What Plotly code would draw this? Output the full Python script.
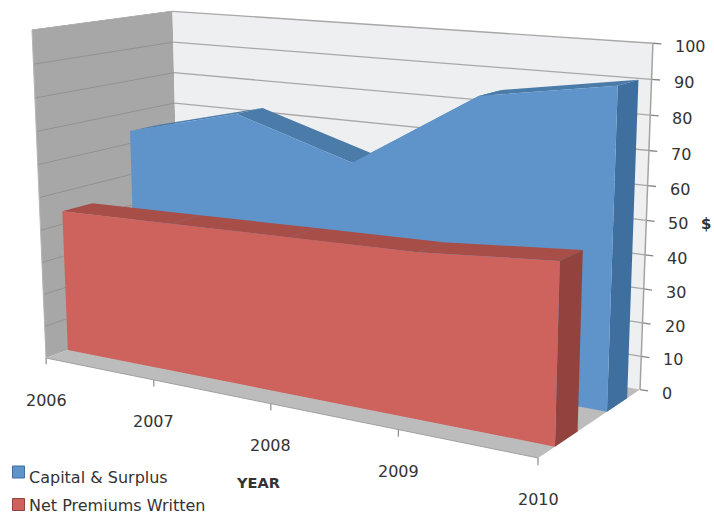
import numpy as np
import plotly.graph_objects as go

# Chart data
years = ["2006", "2007", "2008", "2009", "2010"]
capital_surplus = [64, 73, 62, 85, 91]
net_premiums = [44, 45, 46, 47, 50]
value_ticks = [0, 10, 20, 30, 40, 50, 60, 70, 80, 90, 100]
series_names = ["Capital & Surplus", "Net Premiums Written"]

# Perspective of the chart box: vanishing points of the year, depth and value
# directions, their homogeneous weights, and the near-left floor corner.
VANISH_X = (-2553.0, -170.0)
VANISH_Y = (1460.0, -161.0)
VANISH_Z = (364.0, 7800.0)
WEIGHTS = (-0.1592, 0.1045, -0.0422)
ORIGIN = (46.0, 358.0)

FONT = "DejaVu Sans"
INK = "#333333"


def project(a, b, c):
    """Map box coordinates (year, depth, value; each 0..1) to the flat plane."""
    wx, wy, wz = WEIGHTS
    den = 1 + wx * a + wy * b + wz * c
    px = ORIGIN[0] + wx * a * VANISH_X[0] + wy * b * VANISH_Y[0] + wz * c * VANISH_Z[0]
    py = ORIGIN[1] + wx * a * VANISH_X[1] + wy * b * VANISH_Y[1] + wz * c * VANISH_Z[1]
    return px / den, py / den


def polygon(points, color, name=None):
    xy = [project(*p) for p in points]
    xs = [q[0] for q in xy] + [xy[0][0]]
    ys = [q[1] for q in xy] + [xy[0][1]]
    return go.Scatter(x=xs, y=ys, mode="lines", fill="toself", fillcolor=color,
                      line=dict(width=0, color=color), hoverinfo="skip" if name is None else "name",
                      name=name or "", showlegend=False)


def segment(p, q, color, width=1.0, dash=None):
    a, b = project(*p), project(*q)
    return go.Scatter(x=[a[0], b[0]], y=[a[1], b[1]], mode="lines",
                      line=dict(color=color, width=width, dash=dash),
                      hoverinfo="skip", showlegend=False)


def area_band(values, b0, b1, front, top, side, name):
    """One 3D area series: top strips, right end and front face."""
    t = np.linspace(0, 1, len(values))
    v = np.array(values) / 100.0
    out = []
    for i in range(len(values) - 1):
        out.append(polygon([(t[i], b0, v[i]), (t[i + 1], b0, v[i + 1]),
                            (t[i + 1], b1, v[i + 1]), (t[i], b1, v[i])], top))
    out.append(polygon([(1, b0, 0), (1, b1, 0), (1, b1, v[-1]), (1, b0, v[-1])], side))
    outline = [(t[i], b0, v[i]) for i in range(len(values))]
    out.append(polygon([(0, b0, 0)] + outline + [(1, b0, 0)], front, name))
    return out


fig = go.Figure()

# Walls and floor of the box
fig.add_trace(polygon([(0, 0, 0), (0, 1, 0), (0, 1, 1), (0, 0, 1)], "#a7a7a7"))
fig.add_trace(polygon([(0, 1, 0), (1, 1, 0), (1, 1, 1), (0, 1, 1)], "#eeeff0"))
fig.add_trace(polygon([(0, 0, 0), (1, 0, 0), (1, 1, 0), (0, 1, 0)], "#bcbcbc"))

# Gridlines on both walls, value ticks past the right edge
for tick in value_ticks:
    c = tick / 100.0
    if tick > 0:
        fig.add_trace(segment((0, 0, c), (0, 1, c), "#929292", 1.0))
        fig.add_trace(segment((0, 1, c), (1, 1, c), "#a8a8a8", 1.3))
    fig.add_trace(segment((1, 1, c), (1.015, 1, c), "#858585", 1.3))
fig.add_trace(segment((1, 1, 0), (1, 1, 1), "#a3a3a3", 1.5))
fig.add_trace(segment((0, 0, 0), (0, 0, 1), "#b5b5b5", 1.0))
fig.add_trace(segment((0, 0, 1), (0, 1, 1), "#b0b0b0", 1.0))
fig.add_trace(segment((0, 0, 0), (1, 0, 0), "#a0a0a0", 1.0))

# Year ticks below the near floor edge
for i, _ in enumerate(years):
    a = i / (len(years) - 1)
    fig.add_trace(segment((a, 0, 0), (a, 0, -0.02), "#8d8d8d", 1.2))

# The two area series, back one first
for tr in area_band(capital_surplus, 0.65, 0.86, "#5f94cb", "#4a7ba9", "#3f6f9e", series_names[0]):
    fig.add_trace(tr)
for tr in area_band(net_premiums, 0.15, 0.36, "#cd635c", "#a84e48", "#92433e", series_names[1]):
    fig.add_trace(tr)

annotations = []


def label(x, y, text, size=16, bold=False, anchor="center", xshift=0, yshift=0):
    annotations.append(dict(x=x, y=y, xref="x", yref="y", text=f"<b>{text}</b>" if bold else text,
                            showarrow=False, xanchor=anchor, yanchor="middle",
                            xshift=xshift, yshift=yshift,
                            font=dict(family=FONT, size=size, color=INK)))


for i, year in enumerate(years):
    x, y = project(i / (len(years) - 1), 0, 0)
    label(x, y, year, yshift=-42)

for tick in value_ticks:
    x, y = project(1, 1, tick / 100.0)
    label(x, y, str(tick), anchor="left", xshift=20, yshift=-3.5)

# Axis titles and key
label(706, 224, "$", size=15, bold=True)
label(258, 483, "YEAR", size=14.5, bold=True)
fig.add_trace(go.Scatter(x=[18.5, 18.5], y=[472, 504.5], mode="markers", hoverinfo="skip", showlegend=False,
                         marker=dict(symbol="square", size=12, color=["#5f94cb", "#cd635c"],
                                     line=dict(width=1, color=["#3f6f9e", "#92433e"]))))
label(26.5, 477, series_names[0], anchor="left")
label(26.5, 505.5, series_names[1], anchor="left")

fig.update_layout(
    width=714, height=516, margin=dict(l=0, r=0, t=0, b=0),
    paper_bgcolor="white", plot_bgcolor="white", showlegend=False,
    xaxis=dict(range=[0, 714], visible=False, fixedrange=True),
    yaxis=dict(range=[516, 0], visible=False, fixedrange=True),
    annotations=annotations,
)

fig.write_html("out.html")
